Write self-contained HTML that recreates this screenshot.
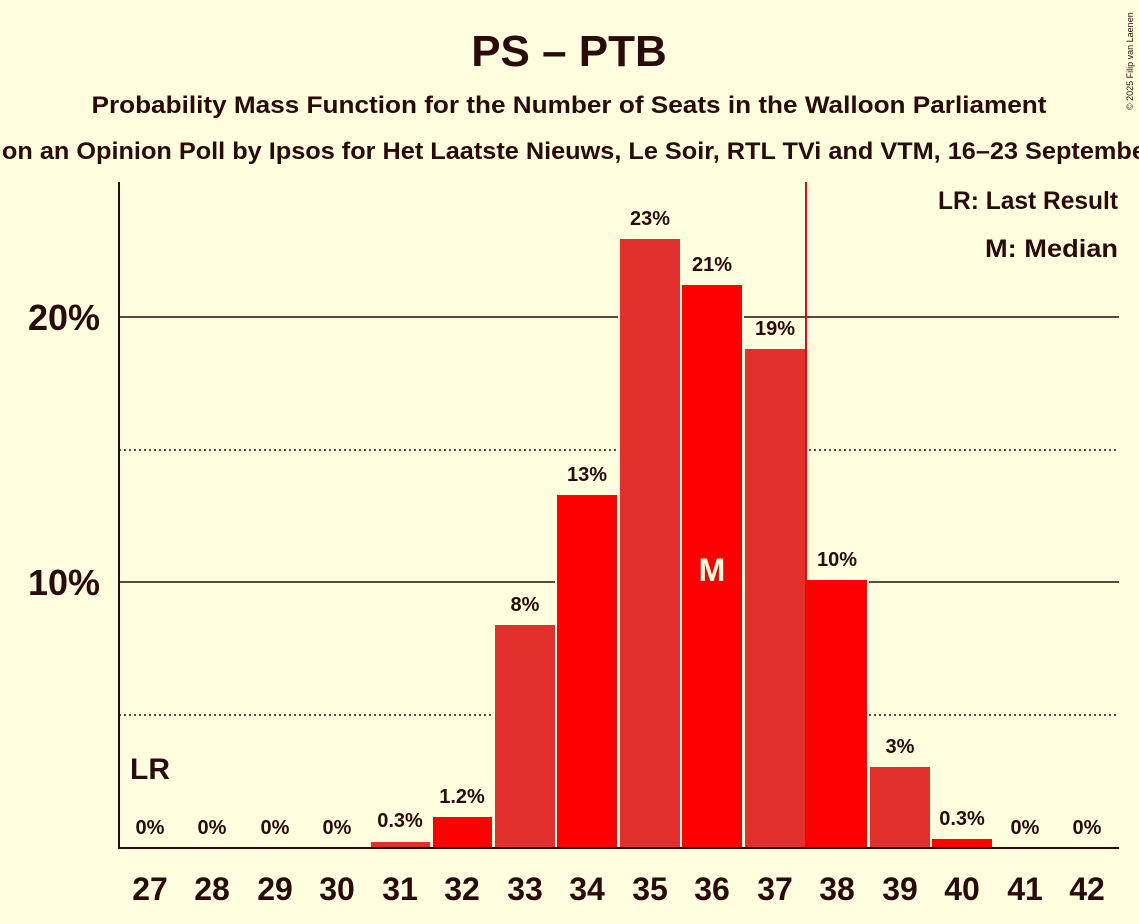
<!DOCTYPE html>
<html><head><meta charset="utf-8"><style>
html,body{margin:0;padding:0;background:#FFFFE0;}
svg{display:block;font-family:"Liberation Sans",sans-serif;}
</style></head><body>
<svg width="1139" height="924" viewBox="0 0 1139 924">
<rect width="1139" height="924" fill="#FFFFE0"/>
<text x="569" y="66" text-anchor="middle" font-size="44" font-weight="bold" fill="#2a0a0a">PS – PTB</text>
<text x="569" y="113" text-anchor="middle" font-size="24" font-weight="bold" fill="#2a0a0a" textLength="955" lengthAdjust="spacingAndGlyphs">Probability Mass Function for the Number of Seats in the Walloon Parliament</text>
<text x="569" y="159" text-anchor="middle" font-size="24" font-weight="bold" fill="#2a0a0a" textLength="1300" lengthAdjust="spacingAndGlyphs">Based on an Opinion Poll by Ipsos for Het Laatste Nieuws, Le Soir, RTL TVi and VTM, 16–23 September 2024</text>
<text x="1133" y="110" font-size="9" fill="#2a0a0a" transform="rotate(-90 1133 110)">© 2025 Filip van Laenen</text>
<g stroke="#2a0a0a" stroke-width="1.5">
<line x1="119" y1="317" x2="1119" y2="317"/>
<line x1="119" y1="582" x2="1119" y2="582"/>
<line x1="119" y1="450" x2="1119" y2="450" stroke-dasharray="2,3"/>
<line x1="119" y1="715" x2="1119" y2="715" stroke-dasharray="2,3"/>
</g>
<g fill="#FFFFE0">
<rect x="369" y="840" width="63" height="8"/>
<rect x="431" y="815" width="63" height="33"/>
<rect x="493" y="623" width="64" height="225"/>
<rect x="555" y="493" width="64" height="355"/>
<rect x="618" y="237" width="64" height="611"/>
<rect x="680" y="283" width="64" height="565"/>
<rect x="743" y="347" width="64" height="501"/>
<rect x="805" y="578" width="64" height="270"/>
<rect x="868" y="765" width="64" height="83"/>
<rect x="930" y="837" width="64" height="11"/>
</g>
<rect x="371" y="842" width="59" height="6" fill="#E32F2C"/>
<rect x="433" y="817" width="59" height="31" fill="#FF0000"/>
<rect x="495" y="625" width="60" height="223" fill="#E32F2C"/>
<rect x="557" y="495" width="60" height="353" fill="#FF0000"/>
<rect x="620" y="239" width="60" height="609" fill="#E32F2C"/>
<rect x="682" y="285" width="60" height="563" fill="#FF0000"/>
<rect x="745" y="349" width="60" height="499" fill="#E32F2C"/>
<rect x="807" y="580" width="60" height="268" fill="#FF0000"/>
<rect x="870" y="767" width="60" height="81" fill="#E32F2C"/>
<rect x="932" y="839" width="60" height="9" fill="#FF0000"/>
<line x1="806" y1="182" x2="806" y2="848" stroke="#FF0000" stroke-width="2"/>
<line x1="119" y1="182" x2="119" y2="849" stroke="#2a0a0a" stroke-width="2"/>
<line x1="118" y1="848" x2="1119" y2="848" stroke="#2a0a0a" stroke-width="2"/>
<g font-size="20" font-weight="bold" fill="#2a0a0a" text-anchor="middle">
<text x="150" y="834">0%</text><text x="212" y="834">0%</text><text x="275" y="834">0%</text><text x="337" y="834">0%</text>
<text x="400" y="827">0.3%</text><text x="462" y="803">1.2%</text><text x="525" y="611">8%</text><text x="587" y="481">13%</text>
<text x="650" y="225">23%</text><text x="712" y="271">21%</text><text x="775" y="335">19%</text><text x="837" y="566">10%</text>
<text x="900" y="753">3%</text><text x="962" y="825">0.3%</text><text x="1025" y="834">0%</text><text x="1087" y="834">0%</text>
</g>
<text x="712" y="581" text-anchor="middle" font-size="32" font-weight="bold" fill="#FFFFE0">M</text>
<text x="150" y="779" text-anchor="middle" font-size="30" font-weight="bold" fill="#2a0a0a">LR</text>
<g font-size="25" font-weight="bold" fill="#2a0a0a" text-anchor="end">
<text x="1118" y="209" textLength="180" lengthAdjust="spacingAndGlyphs">LR: Last Result</text>
<text x="1118" y="257" textLength="133" lengthAdjust="spacingAndGlyphs">M: Median</text>
</g>
<g font-size="36" font-weight="bold" fill="#2a0a0a" text-anchor="end">
<text x="100" y="330">20%</text><text x="100" y="595">10%</text>
</g>
<g font-size="32" font-weight="bold" fill="#2a0a0a" text-anchor="middle">
<text x="150" y="900">27</text><text x="212" y="900">28</text><text x="275" y="900">29</text><text x="337" y="900">30</text>
<text x="400" y="900">31</text><text x="462" y="900">32</text><text x="525" y="900">33</text><text x="587" y="900">34</text>
<text x="650" y="900">35</text><text x="712" y="900">36</text><text x="775" y="900">37</text><text x="837" y="900">38</text>
<text x="900" y="900">39</text><text x="962" y="900">40</text><text x="1025" y="900">41</text><text x="1087" y="900">42</text>
</g>
</svg>
</body></html>
